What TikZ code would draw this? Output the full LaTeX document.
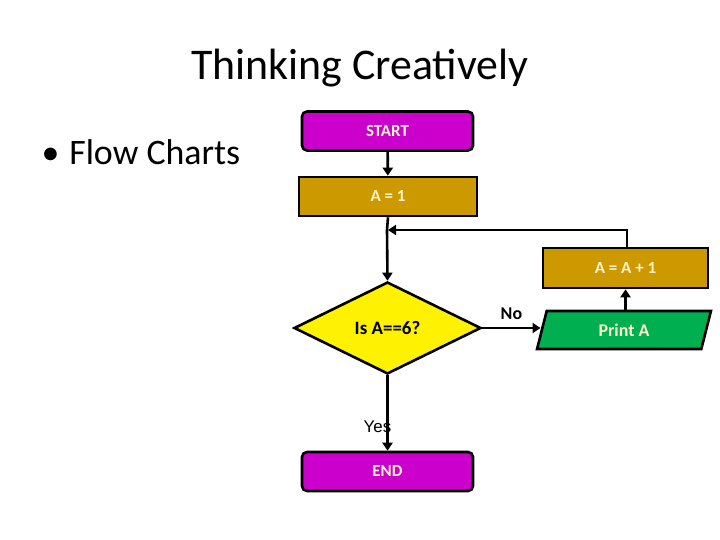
\documentclass[tikz,border=0pt]{standalone}
\usepackage{fontspec}
\setmainfont{Carlito}
\newfontfamily\yesfont{Liberation Sans}
\usetikzlibrary{shapes.geometric,arrows.meta}
\definecolor{magbox}{HTML}{CC00CC}
\definecolor{goldbox}{HTML}{CC9900}
\definecolor{greenbox}{HTML}{00B050}
\definecolor{lighttext}{HTML}{FFF2CC}
\begin{document}
\begin{tikzpicture}[x=1bp,y=-1bp,
  box/.style={draw=black,line width=2.6bp,minimum width=171bp,minimum height=39bp,inner sep=0pt},
  boxtext/.style={text=lighttext,font=\bfseries\fontsize{17}{20}\selectfont},
  conn/.style={draw=black,line width=2.6bp,-{Triangle[length=8bp,width=10bp]}},
  plain/.style={draw=black,line width=2.6bp}]
\useasboundingbox (0,0) rectangle (720,540);
\fill[white] (0,0) rectangle (720,540);
\node[font=\fontsize{44}{52}\selectfont] (title) at (360,68) {Thinking Creatively};
\node[font=\fontsize{36}{42}\selectfont,anchor=west] (bullet) at (38,152) {•\hspace{10pt}Flow Charts};
\node[box,fill=magbox,rounded corners=5bp,boxtext] (start) at (387.5,131) {START};
\node[box,fill=goldbox,minimum width=178bp,boxtext] (a1) at (388,196.5) {A = 1};
\node[diamond,draw=black,line width=2.6bp,fill=yellow,minimum width=187bp,minimum height=92bp,inner sep=0pt,aspect=2,font=\bfseries\fontsize{19}{22}\selectfont] (dec) at (387.5,328) {Is A==6?};
\node[box,fill=goldbox,minimum width=165bp,minimum height=40bp,boxtext] (inc) at (625.5,268) {A = A + 1};
\node[trapezium,trapezium left angle=76,trapezium right angle=104,draw=black,line width=2.6bp,fill=greenbox,minimum width=175bp,minimum height=38bp,inner sep=0pt,trapezium stretches=true,boxtext,font=\bfseries\fontsize{18}{21}\selectfont] (print) at (624,330) {Print A};
\node[box,fill=magbox,rounded corners=5bp,boxtext] (end) at (387.5,471.5) {END};
\coordinate (loopc) at (387,230);
\coordinate (loopr) at (627,230);
\draw[conn] (start) -- (a1);
\draw[plain] (a1.south) -- (loopc);
\draw[conn] (loopc) -- (dec.north);
\draw[conn] (inc.north -| loopr) -- (loopr) -- ([xshift=1bp]loopc);
\draw[conn] (dec.east) -- node[above,pos=0.5,yshift=4bp,font=\bfseries\fontsize{18}{21}\selectfont] (no) {No} (dec.east -| print.west);
\draw[conn] (print.north -| inc.north) -- (inc.south);
\draw[conn] (dec.south) -- node[pos=0.68,xshift=-10bp,font=\yesfont\fontsize{17}{20}\selectfont] (yes) {Yes} (end.north);
\end{tikzpicture}
\end{document}
